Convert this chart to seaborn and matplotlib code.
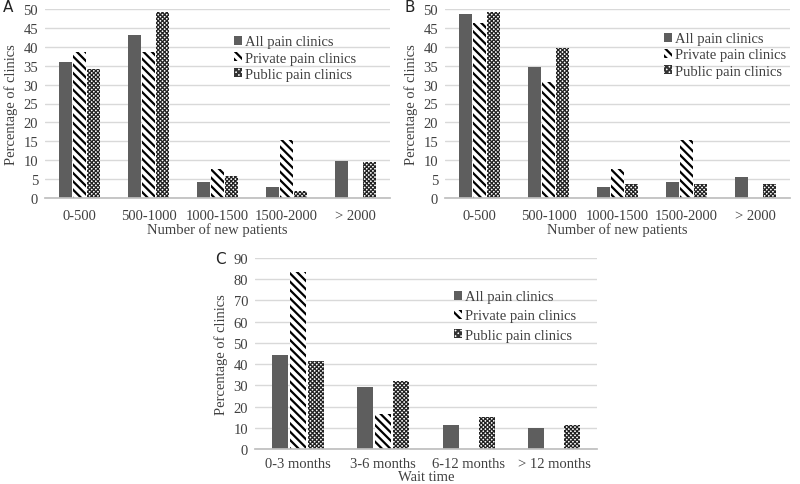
import matplotlib
matplotlib.use("Agg")
import matplotlib.pyplot as plt
import seaborn as sns
import pandas as pd
from matplotlib.patches import Patch

series = ["All pain clinics", "Private pain clinics", "Public pain clinics"]

patients_cats = ["0-500", "500-1000", "1000-1500", "1500-2000", "> 2000"]
a_all = [36.1, 43.1, 4.2, 2.8, 9.7]
a_private = [38.5, 38.5, 7.7, 15.4, 0.0]
a_public = [34.0, 49.1, 5.7, 1.9, 9.4]

b_all = [48.6, 34.7, 2.8, 4.2, 5.6]
b_private = [46.2, 30.8, 7.7, 15.4, 0.0]
b_public = [49.1, 39.6, 3.8, 3.8, 3.8]

wait_cats = ["0-3 months", "3-6 months", "6-12 months", "> 12 months"]
c_all = [44.4, 29.2, 11.1, 9.7]
c_private = [83.3, 16.7, 0.0, 0.0]
c_public = [41.5, 32.1, 15.1, 11.3]

sns.set_theme(style="white")
plt.rcParams["font.family"] = ["Liberation Serif", "DejaVu Serif"]
plt.rcParams["hatch.linewidth"] = 1.6

W, H = 800, 485
fig = plt.figure(figsize=(8, 4.85), dpi=100)

DARK = "#5e5e5e"
GRID = "#d9d9d9"
TXT = "#404040"
styles = [
    dict(facecolor=DARK, edgecolor=DARK, hatch=None, hlw=1.6),
    dict(facecolor="white", edgecolor="black", hatch="\\\\\\\\", hlw=1.6),
    dict(facecolor="white", edgecolor="#222222", hatch="xxxxxxxx", hlw=0.9),
]
legend_styles = [
    styles[0],
    styles[1],
    dict(facecolor="white", edgecolor="#333333", hatch="xxxxxx", hlw=0.8),
]


def style_patch(p, st):
    p.set_facecolor(st["facecolor"])
    p.set_edgecolor(st["edgecolor"])
    p.set_linewidth(0)
    if st["hatch"]:
        p.set_hatch(st["hatch"])
        if hasattr(p, "set_hatch_linewidth"):
            p.set_hatch_linewidth(st["hlw"])
        else:
            p._hatch_linewidth = st["hlw"]


def make_df(cats, vals):
    rows = []
    for s, v in zip(series, vals):
        for c, y in zip(cats, v):
            rows.append({"cat": c, "series": s, "value": y})
    return pd.DataFrame(rows)


def panel(rect_px, cats, vals, ymax, ystep, xlabel, letter, letter_xy, legend_xy,
          width, gap, ylab_x, xpad, labelpad, spacing):
    l, t, r, b = rect_px
    ax = fig.add_axes([l / W, 1 - b / H, (r - l) / W, (b - t) / H])
    df = make_df(cats, vals)
    sns.barplot(data=df, x="cat", y="value", hue="series", order=cats,
                hue_order=series, palette=[DARK, "white", "white"],
                width=width, gap=gap, ax=ax, legend=False, errorbar=None)
    n = len(cats)
    for i, p in enumerate(ax.patches[: 3 * n]):
        style_patch(p, styles[i // n])
    ax.set_ylim(0, ymax)
    ax.set_yticks(range(0, ymax + 1, ystep))
    ax.set_xlim(-0.5, n - 0.5)
    ax.yaxis.grid(True, color=GRID, linewidth=1)
    ax.set_axisbelow(True)
    for s in ["left", "right", "top"]:
        ax.spines[s].set_visible(False)
    ax.spines["bottom"].set_color("#bfbfbf")
    ax.tick_params(axis="both", length=0, labelsize=10.5, colors=TXT, pad=5)
    ax.tick_params(axis="x", pad=xpad)
    ax.set_xlabel(xlabel, fontsize=10.5, color=TXT, labelpad=labelpad)
    ax.set_ylabel("")
    fig.text(ylab_x / W, 1 - ((t + b) / 2) / H, "Percentage of clinics", rotation=90,
             ha="center", va="center", fontsize=10.5, color=TXT)
    fig.text(letter_xy[0] / W, 1 - letter_xy[1] / H, letter, fontsize=11,
             family=["DejaVu Sans"], color="#222222", ha="left", va="center")
    handles = []
    for st in legend_styles:
        h = Patch(facecolor=st["facecolor"], edgecolor=st["edgecolor"], linewidth=0)
        style_patch(h, st)
        handles.append(h)
    ax.legend(handles, series, loc="upper left",
              bbox_to_anchor=(legend_xy[0] / W, 1 - legend_xy[1] / H),
              bbox_transform=fig.transFigure, frameon=False, fontsize=10.5,
              handlelength=0.55, handleheight=0.55, handletextpad=0.2,
              labelspacing=spacing, borderpad=0, labelcolor=TXT)
    return ax


panel((45, 10, 390, 199), patients_cats, [a_all, a_private, a_public], 50, 5,
      "Number of new patients", "A", (3, 8), (227, 29), 0.61, 0.14, 11, 8, 0, 0.22)
panel((445, 10, 790, 199), patients_cats, [b_all, b_private, b_public], 50, 5,
      "Number of new patients", "B", (404, 8), (657, 26), 0.61, 0.14, 411, 8, 0, 0.22)
panel((255, 259, 597, 450), wait_cats, [c_all, c_private, c_public], 90, 10,
      "Wait time", "C", (215, 259), (447, 284), 0.63, 0.13, 221, 6, 0, 0.42)

fig.savefig("out.png", dpi=100, facecolor="white")
